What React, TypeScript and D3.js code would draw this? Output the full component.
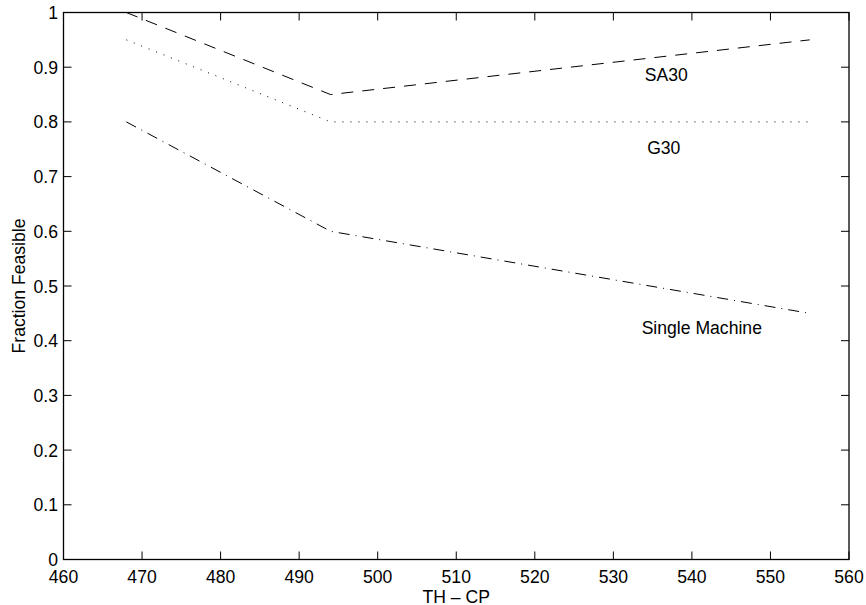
import React from "react";
import * as d3 from "d3";

// TH - CP values where each curve was evaluated
const xValues = [468, 494, 555];
const sa30 = [1.0, 0.85, 0.95];
const g30 = [0.95, 0.8, 0.8];
const singleMachine = [0.8, 0.6, 0.45];

const xTicks = [460, 470, 480, 490, 500, 510, 520, 530, 540, 550, 560];
const yTicks = [0, 0.1, 0.2, 0.3, 0.4, 0.5, 0.6, 0.7, 0.8, 0.9, 1];

// in-plot labels (data coords, left edge / baseline)
const series = [
  { name: "SA30", values: sa30, dash: "12,9", labelX: 534, labelY: 0.875 },
  { name: "G30", values: g30, dash: "1,7", labelX: 534.3, labelY: 0.741 },
  { name: "Single Machine", values: singleMachine, dash: "11,6,1,6", labelX: 533.6, labelY: 0.412 },
];

const W = 866;
const H = 605;
const margin = { left: 63.5, right: 17, top: 12.5, bottom: 45.5 };
const font = "'Liberation Sans', Arial, Helvetica, sans-serif";
const fs = 17.6;

function App() {
  const x = d3.scaleLinear().domain([460, 560]).range([margin.left, W - margin.right]);
  const y = d3.scaleLinear().domain([0, 1]).range([H - margin.bottom, margin.top]);
  const [x0, x1] = x.range();
  const [y0, y1] = y.range();
  const tick = 8;

  const line = d3
    .line<number>()
    .x((_, i) => x(xValues[i]))
    .y((d) => y(d));

  return (
    <svg
      width={W}
      height={H}
      style={{ position: "absolute", left: 0, top: 0, background: "#fff" }}
      fontFamily={font}
      fontSize={fs}
    >
      {/* ticks, inward on all four sides */}
      {xTicks.map((t) => (
        <g key={"x" + t} stroke="#000" strokeWidth={1}>
          <line x1={x(t)} x2={x(t)} y1={y0} y2={y0 - tick} />
          <line x1={x(t)} x2={x(t)} y1={y1} y2={y1 + tick} />
        </g>
      ))}
      {yTicks.map((t) => (
        <g key={"y" + t} stroke="#000" strokeWidth={1}>
          <line x1={x0} x2={x0 + tick} y1={y(t)} y2={y(t)} />
          <line x1={x1} x2={x1 - tick} y1={y(t)} y2={y(t)} />
        </g>
      ))}
      <rect x={x0} y={y1} width={x1 - x0} height={y0 - y1} fill="none" stroke="#000" strokeWidth={1.3} />

      {xTicks.map((t) => (
        <text key={"xl" + t} x={x(t)} y={y0 + 23} textAnchor="middle" fill="#000">
          {t}
        </text>
      ))}
      {yTicks.map((t) => (
        <text key={"yl" + t} x={x0 - 5.5} y={y(t) + 6.5} textAnchor="end" fill="#000">
          {t}
        </text>
      ))}

      {series.map((s) => (
        <g key={s.name}>
          <path d={line(s.values) || ""} fill="none" stroke="#000" strokeWidth={1} strokeDasharray={s.dash} />
          <text x={x(s.labelX)} y={y(s.labelY)} textAnchor="start" fill="#000">
            {s.name}
          </text>
        </g>
      ))}

      <text x={(x0 + x1) / 2} y={603} textAnchor="middle" fill="#000">
        TH – CP
      </text>
      <text
        transform={`translate(25, ${(y0 + y1) / 2}) rotate(-90)`}
        textAnchor="middle"
        fill="#000"
      >
        Fraction Feasible
      </text>
    </svg>
  );
}

export default App;
